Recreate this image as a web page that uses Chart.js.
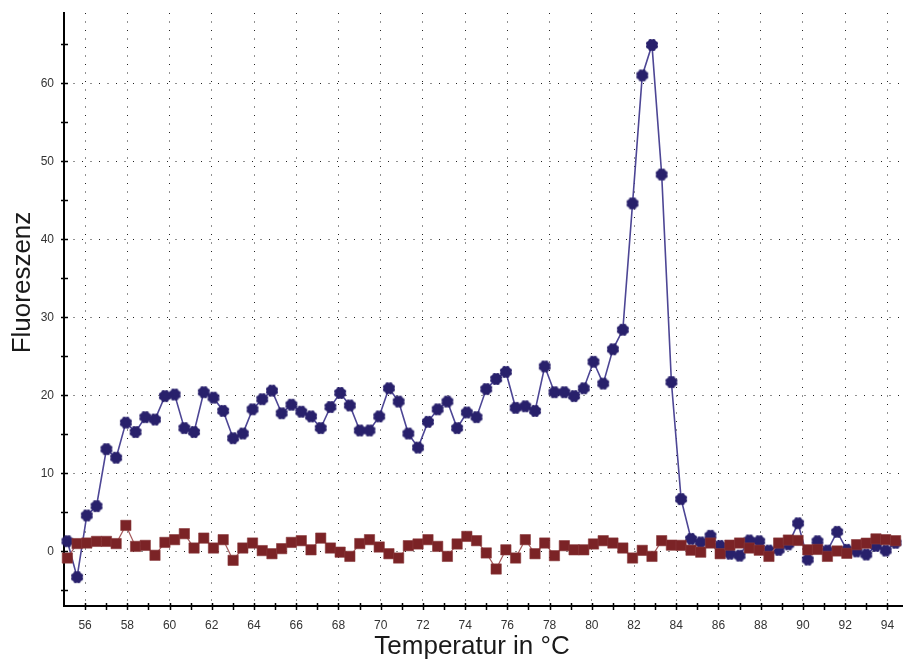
<!DOCTYPE html>
<html>
<head>
<meta charset="utf-8">
<script src="https://cdn.jsdelivr.net/npm/chart.js@4.4.1/dist/chart.umd.min.js"></script>
<style>
  html, body { margin: 0; padding: 0; background: #ffffff; }
  #wrap { width: 903px; height: 663px; }
</style>
</head>
<body>
<div id="wrap"><canvas id="c" width="903" height="663"></canvas></div>
<script>
// ---- data ----
const temperatures = [
  55.16, 55.62, 56.08, 56.54, 57.01, 57.47, 57.93, 58.39, 58.85, 59.31,
  59.78, 60.24, 60.70, 61.16, 61.62, 62.08, 62.54, 63.01, 63.47, 63.93,
  64.39, 64.85, 65.31, 65.77, 66.24, 66.70, 67.16, 67.62, 68.08, 68.54,
  69.01, 69.47, 69.93, 70.39, 70.85, 71.31, 71.77, 72.24, 72.70, 73.16,
  73.62, 74.08, 74.54, 75.00, 75.47, 75.93, 76.39, 76.85, 77.31, 77.77,
  78.23, 78.70, 79.16, 79.62, 80.08, 80.54, 81.00, 81.47, 81.93, 82.39,
  82.85, 83.31, 83.77, 84.23, 84.70, 85.16, 85.62, 86.08, 86.54, 87.00,
  87.46, 87.93, 88.39, 88.85, 89.31, 89.77, 90.23, 90.69, 91.16, 91.62,
  92.08, 92.54, 93.00, 93.46, 93.92, 94.39
];
const sampleFluorescence = [
  1.3, -3.3, 4.6, 5.8, 13.1, 12.0, 16.5, 15.3, 17.2, 16.9,
  19.9, 20.1, 15.8, 15.3, 20.4, 19.7, 18.0, 14.5, 15.1, 18.2,
  19.5, 20.6, 17.7, 18.8, 17.9, 17.3, 15.8, 18.5, 20.3, 18.7,
  15.5, 15.5, 17.3, 20.9, 19.2, 15.1, 13.3, 16.6, 18.2, 19.2,
  15.8, 17.8, 17.2, 20.8, 22.1, 23.0, 18.4, 18.6, 18.0, 23.7,
  20.4, 20.4, 19.9, 20.9, 24.3, 21.5, 25.9, 28.4, 44.6, 61.0,
  64.9, 48.3, 21.7, 6.7, 1.6, 1.15, 2.0, 0.7, -0.3, -0.55,
  1.4, 1.3, 0.1, 0.2, 0.9, 3.6, -1.05, 1.3, 0.1, 2.5,
  0.2, 0.0, -0.4, 0.7, 0.1, 1.1
];
const controlFluorescence = [
  -0.85, 1.0, 1.07, 1.28, 1.28, 1.0, 3.33, 0.64, 0.77, -0.5,
  1.15, 1.5, 2.27, 0.43, 1.7, 0.43, 1.5, -1.15, 0.43, 1.07,
  0.1, -0.3, 0.35, 1.15, 1.37, 0.2, 1.7, 0.43, -0.1, -0.64,
  1.0, 1.5, 0.56, -0.3, -0.85, 0.73, 0.95, 1.5, 0.64, -0.64,
  0.95, 1.92, 1.37, -0.2, -2.26, 0.2, -0.85, 1.5, -0.3, 1.07,
  -0.55, 0.73, 0.2, 0.2, 0.95, 1.37, 1.07, 0.43, -0.85, 0.13,
  -0.64, 1.37, 0.8, 0.77, 0.15, -0.1, 1.07, -0.3, 0.8, 1.07,
  0.43, 0.15, -0.64, 1.07, 1.45, 1.4, 0.2, 0.25, -0.64, 0.05,
  -0.25, 0.86, 1.05, 1.6, 1.5, 1.37
];
const xTickLabels = [56, 58, 60, 62, 64, 66, 68, 70, 72, 74, 76, 78, 80, 82, 84, 86, 88, 90, 92, 94];
const yTickLabels = [0, 10, 20, 30, 40, 50, 60];
const xTickMarks = [56, 57, 58, 59, 60, 61, 62, 63, 64, 65, 66, 67, 68, 69, 70, 71, 72, 73, 74, 75,
  76, 77, 78, 79, 80, 81, 82, 83, 84, 85, 86, 87, 88, 89, 90, 91, 92, 93, 94];
const yTickMarks = [-5, 0, 5, 10, 15, 20, 25, 30, 35, 40, 45, 50, 55, 60, 65];
const xTitle = 'Temperatur in °C';
const yTitle = 'Fluoreszenz';

// ---- marker images ----
function flowerMarker(color) {
  const c = document.createElement('canvas');
  c.width = 14; c.height = 14;
  const g = c.getContext('2d');
  g.fillStyle = color;
  g.beginPath(); g.arc(7, 7, 4.6, 0, Math.PI * 2); g.fill();
  for (let k = 0; k < 8; k++) {
    const a = k * Math.PI / 4 + Math.PI / 8;
    g.beginPath(); g.arc(7 + 4.1 * Math.cos(a), 7 + 4.1 * Math.sin(a), 2.2, 0, Math.PI * 2); g.fill();
  }
  return c;
}
const blueMarker = flowerMarker('#29216c');

const FONT = "'Liberation Sans', Arial, Helvetica, sans-serif";

const axisDecor = {
  id: 'axisDecor',
  afterDatasetsDraw(chart) {
    const ctx = chart.ctx, xs = chart.scales.x, ys = chart.scales.y, a = chart.chartArea;
    ctx.save();
    ctx.strokeStyle = '#000';
    ctx.lineWidth = 1.5;
    ctx.beginPath();
    xTickMarks.forEach(v => {
      const p = Math.round(xs.getPixelForValue(v)) + 0.5;
      ctx.moveTo(p, a.bottom - 3); ctx.lineTo(p, a.bottom + 4);
    });
    yTickMarks.forEach(v => {
      const p = Math.round(ys.getPixelForValue(v)) + 0.5;
      ctx.moveTo(a.left - 3, p); ctx.lineTo(a.left + 4, p);
    });
    ctx.stroke();
    ctx.fillStyle = '#1a1a1a';
    ctx.font = '26px ' + FONT;
    ctx.textAlign = 'center';
    ctx.textBaseline = 'middle';
    ctx.fillText(xTitle, a.left + 408, a.bottom + 41);
    ctx.translate(a.left - 41, (a.top + a.bottom) / 2 - 27);
    ctx.rotate(-Math.PI / 2);
    ctx.fillText(yTitle, 0, 0);
    ctx.restore();
  }
};

const gridOpts = {
  display: true,
  drawTicks: false,
  color: '#222',
  lineWidth: 1
};
const borderOpts = { display: true, color: '#000', width: 2, dash: [1, 7.5] };

new Chart(document.getElementById('c'), {
  type: 'line',
  data: {
    datasets: [
      {
        label: 'Kontrolle',
        data: temperatures.map((t, i) => ({ x: t, y: controlFluorescence[i] })),
        borderColor: '#a45a5c',
        borderWidth: 1.2,
        backgroundColor: '#7b2326',
        pointStyle: 'rect',
        pointRadius: 7.3,
        pointHoverRadius: 7.3,
        pointBorderColor: '#8a3a3c',
        pointBorderWidth: 0.6,
        pointBackgroundColor: '#7b2326',
        tension: 0,
        clip: false
      },
      {
        label: 'Probe',
        data: temperatures.map((t, i) => ({ x: t, y: sampleFluorescence[i] })),
        borderColor: '#4d4695',
        borderWidth: 1.6,
        backgroundColor: '#29216c',
        pointStyle: blueMarker,
        pointRadius: 7,
        pointHoverRadius: 7,
        tension: 0,
        clip: false
      }
    ]
  },
  options: {
    responsive: false,
    animation: false,
    events: [],
    layout: { autoPadding: false, padding: { left: 0, right: 0, top: 13, bottom: 0 } },
    plugins: { legend: { display: false }, tooltip: { enabled: false }, title: { display: false } },
    scales: {
      x: {
        type: 'linear',
        min: 55,
        max: 94.74,
        afterBuildTicks: s => { s.ticks = xTickLabels.map(v => ({ value: v })); },
        afterFit: s => { s.height = 57; s.paddingLeft = 0; s.paddingRight = 0; },
        grid: gridOpts,
        border: borderOpts,
        ticks: {
          padding: 12,
          color: '#333',
          font: { family: FONT, size: 12 },
          maxRotation: 0,
          autoSkip: false
        },
        title: { display: false }
      },
      y: {
        type: 'linear',
        min: -7,
        max: 69,
        afterBuildTicks: s => { s.ticks = yTickLabels.map(v => ({ value: v })); },
        afterFit: s => { s.width = 64; s.paddingTop = 0; s.paddingBottom = 0; },
        grid: gridOpts,
        border: borderOpts,
        ticks: {
          padding: 10,
          color: '#333',
          font: { family: FONT, size: 12 },
          autoSkip: false
        },
        title: { display: false }
      }
    }
  },
  plugins: [axisDecor]
});
</script>
</body>
</html>
